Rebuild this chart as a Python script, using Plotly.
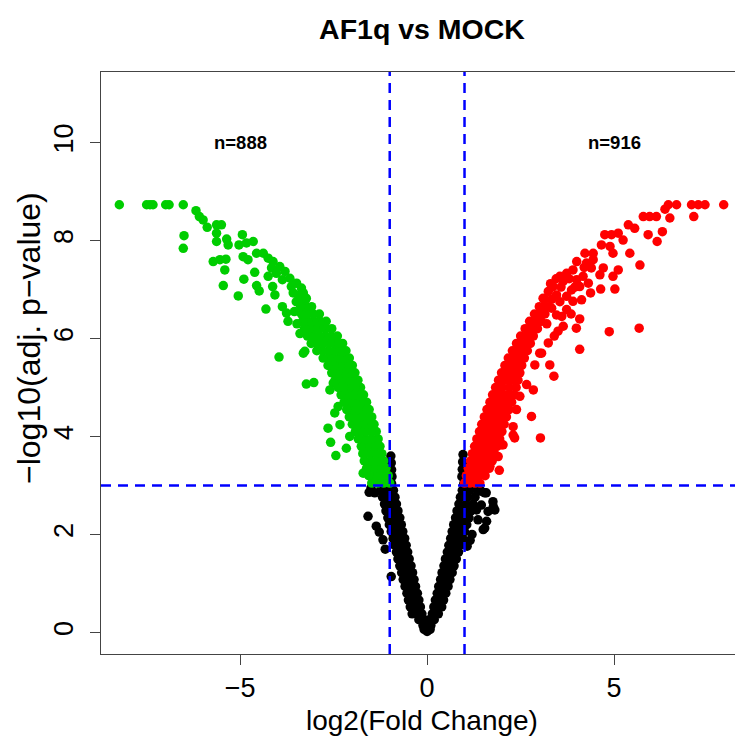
import plotly.graph_objects as go

# ---------------- text / axes ----------------
title_text = "AF1q vs MOCK"
x_label = "log2(Fold Change)"
y_label = "\u2212log10(adj. p\u2212value)"
x_ticks = [-5, 0, 5]
y_ticks = [0, 2, 4, 6, 8, 10]
x_tick_text = ["\u22125", "0", "5"]
fc_cut = 1
p_cut = 3
n_down_label = "n=888"
n_up_label = "n=916"
n_label_pos_x = [-5, 5]
n_label_pos_y = 10

# ---------------- data (log2FC, -log10 adj p) ----------------
ns_points = [
    (0.00, 0.02), (-0.08, 0.06), (0.08, 0.06), (-0.11, 0.14), (0.00, 0.12), (0.10, 0.14),
    (-0.22, 0.26), (-0.08, 0.26), (0.06, 0.26), (0.19, 0.26),
    (-0.14, 0.38), (-0.28, 0.38), (-0.40, 0.38),
    (-0.18, 0.52), (-0.32, 0.52), (-0.45, 0.52),
    (-0.22, 0.66), (-0.36, 0.66), (-0.50, 0.66),
    (-0.26, 0.80), (-0.40, 0.80), (-0.54, 0.80),
    (-0.31, 0.94), (-0.45, 0.94), (-0.59, 0.94),
    (-0.35, 1.08), (-0.50, 1.08), (-0.64, 1.08),
    (-0.39, 1.22), (-0.54, 1.22), (-0.68, 1.22),
    (-0.43, 1.36), (-0.58, 1.36), (-0.73, 1.36),
    (-0.48, 1.50), (-0.63, 1.50), (-0.78, 1.50),
    (-0.52, 1.64), (-0.67, 1.64), (-0.82, 1.64),
    (-0.56, 1.78), (-0.72, 1.78), (-0.87, 1.78),
    (-0.60, 1.92), (-0.76, 1.92), (-0.91, 1.92),
    (-0.65, 2.06), (-0.80, 2.06), (-0.96, 2.06),
    (-0.69, 2.20), (-0.85, 2.20), (-1.01, 2.20),
    (-0.73, 2.34), (-0.89, 2.34), (-1.05, 2.34),
    (-0.78, 2.48), (-0.94, 2.48), (-1.10, 2.48),
    (-0.82, 2.62), (-0.98, 2.62), (-1.14, 2.62),
    (-0.86, 2.76), (-1.02, 2.76), (-1.19, 2.76),
    (-0.90, 2.90), (-1.06, 2.90), (-1.24, 2.90),
    (-0.95, 3.04), (-1.10, 3.04), (-1.28, 3.04),
    (-0.94, 3.18), (-0.95, 3.32), (-0.96, 3.46), (-0.97, 3.60),
    (-1.50, 2.95), (-1.40, 2.85), (-1.55, 2.86), (-1.58, 2.37), (-1.36, 2.17),
    (-1.28, 2.05), (-1.18, 1.89), (-1.12, 1.70), (-0.96, 1.14),
    (0.14, 0.38), (0.30, 0.38),
    (0.18, 0.52), (0.30, 0.52), (0.39, 0.52),
    (0.22, 0.66), (0.34, 0.66), (0.44, 0.66),
    (0.27, 0.80), (0.39, 0.80), (0.50, 0.80),
    (0.31, 0.94), (0.44, 0.94), (0.56, 0.94),
    (0.36, 1.08), (0.49, 1.08), (0.61, 1.08),
    (0.40, 1.22), (0.54, 1.22), (0.67, 1.22),
    (0.45, 1.36), (0.59, 1.36), (0.72, 1.36),
    (0.49, 1.50), (0.64, 1.50), (0.78, 1.50),
    (0.54, 1.64), (0.69, 1.64), (0.84, 1.64),
    (0.58, 1.78), (0.74, 1.78), (0.89, 1.78),
    (0.63, 1.92), (0.79, 1.92), (0.95, 1.92),
    (0.67, 2.06), (0.84, 2.06), (1.00, 2.06),
    (0.71, 2.20), (0.88, 2.20), (1.06, 2.20),
    (0.76, 2.34), (0.94, 2.34), (1.12, 2.34),
    (0.80, 2.48), (0.98, 2.48), (1.17, 2.48),
    (0.85, 2.62), (1.04, 2.62), (1.23, 2.62),
    (0.89, 2.76), (1.08, 2.76), (1.28, 2.76),
    (0.94, 2.90), (1.14, 2.90), (1.34, 2.90),
    (0.98, 3.04), (1.18, 3.04), (1.38, 3.04),
    (0.93, 3.18), (0.94, 3.33), (0.95, 3.48), (0.96, 3.63),
    (1.07, 1.76), (1.15, 1.88), (1.20, 2.00), (1.50, 2.10), (1.54, 2.13), (1.59, 2.27),
    (1.36, 2.30), (1.32, 2.50), (1.45, 2.60), (1.63, 2.47), (1.77, 2.57), (1.81, 2.50),
    (1.76, 2.67), (1.54, 2.85), (1.41, 2.91), (1.45, 2.88), (1.58, 2.85),
]

down_dense = [
    (-1.00, 3.05), (-1.16, 3.05), (-1.32, 3.05), (-1.48, 3.05),
    (-1.04, 3.20), (-1.21, 3.20), (-1.38, 3.20), (-1.56, 3.20),
    (-1.10, 3.35), (-1.27, 3.35), (-1.44, 3.35), (-1.62, 3.35),
    (-1.16, 3.50), (-1.33, 3.50), (-1.50, 3.50), (-1.68, 3.50),
    (-1.21, 3.65), (-1.38, 3.65), (-1.55, 3.65), (-1.72, 3.65),
    (-1.26, 3.80), (-1.43, 3.80), (-1.60, 3.80), (-1.76, 3.80),
    (-1.31, 3.95), (-1.49, 3.95), (-1.66, 3.95), (-1.84, 3.95),
    (-1.36, 4.10), (-1.50, 4.10), (-1.64, 4.10), (-1.78, 4.10), (-1.92, 4.10),
    (-1.42, 4.25), (-1.56, 4.25), (-1.71, 4.25), (-1.85, 4.25), (-2.00, 4.25),
    (-1.48, 4.40), (-1.63, 4.40), (-1.78, 4.40), (-1.93, 4.40), (-2.08, 4.40),
    (-1.55, 4.55), (-1.70, 4.55), (-1.85, 4.55), (-2.00, 4.55), (-2.15, 4.55),
    (-1.62, 4.70), (-1.77, 4.70), (-1.92, 4.70), (-2.07, 4.70), (-2.22, 4.70),
    (-1.70, 4.85), (-1.85, 4.85), (-2.00, 4.85), (-2.15, 4.85), (-2.30, 4.85),
    (-1.78, 5.00), (-1.93, 5.00), (-2.08, 5.00), (-2.23, 5.00), (-2.38, 5.00),
    (-1.85, 5.15), (-2.00, 5.15), (-2.15, 5.15), (-2.30, 5.15), (-2.46, 5.15),
    (-1.93, 5.30), (-2.08, 5.30), (-2.24, 5.30), (-2.40, 5.30), (-2.55, 5.30),
    (-2.00, 5.45), (-2.16, 5.45), (-2.32, 5.45), (-2.48, 5.45), (-2.65, 5.45),
    (-2.08, 5.60), (-2.22, 5.60), (-2.36, 5.60), (-2.50, 5.60), (-2.64, 5.60), (-2.78, 5.60),
    (-2.17, 5.75), (-2.33, 5.75), (-2.48, 5.75), (-2.64, 5.75), (-2.80, 5.75), (-2.95, 5.75),
    (-2.26, 5.90), (-2.43, 5.90), (-2.60, 5.90), (-2.77, 5.90), (-2.94, 5.90), (-3.10, 5.90),
    (-2.40, 6.05), (-2.56, 6.05), (-2.72, 6.05), (-2.88, 6.05), (-3.04, 6.05), (-3.20, 6.05),
    (-2.55, 6.20), (-2.70, 6.20), (-2.85, 6.20), (-3.00, 6.20), (-3.14, 6.20), (-3.28, 6.20),
    (-2.70, 6.35), (-2.86, 6.35), (-3.02, 6.35), (-3.18, 6.35), (-3.33, 6.35),
    (-2.88, 6.50), (-3.04, 6.50), (-3.20, 6.50), (-3.36, 6.50),
    (-3.09, 6.65), (-3.24, 6.65), (-3.38, 6.65),
    (-3.25, 6.80), (-3.40, 6.80),
]

down_sparse = [
    (-8.23, 8.73), (-7.50, 8.73), (-7.41, 8.73), (-7.33, 8.73), (-6.99, 8.73), (-6.90, 8.73), (-6.52, 8.73),
    (-6.18, 8.61), (-6.09, 8.49), (-5.99, 8.42), (-5.88, 8.27), (-5.63, 8.32), (-5.50, 8.32),
    (-5.63, 8.15), (-5.63, 7.98), (-5.36, 8.03), (-5.32, 7.91), (-4.94, 8.12), (-5.03, 7.91),
    (-4.83, 7.95), (-4.65, 7.98), (-4.92, 7.67), (-4.79, 7.61), (-4.56, 7.74), (-4.38, 7.74),
    (-4.25, 7.64), (-4.12, 7.57), (-3.94, 7.47), (-3.80, 7.37), (-3.67, 7.23), (-3.49, 7.13),
    (-3.36, 7.03), (-3.31, 6.93), (-3.23, 6.82),
    (-4.16, 7.44), (-4.03, 7.33), (-3.87, 7.20), (-3.63, 7.06), (-3.45, 6.89), (-3.58, 6.93),
    (-6.50, 8.10), (-6.52, 7.84), (-5.72, 7.57), (-5.54, 7.61), (-5.38, 7.62), (-5.41, 7.40),
    (-5.45, 7.08), (-5.05, 6.87), (-4.90, 7.21), (-4.61, 7.35), (-4.56, 7.08), (-4.49, 6.97),
    (-4.25, 7.27), (-4.13, 7.06), (-4.07, 6.89), (-4.31, 6.60), (-3.87, 6.65), (-3.72, 6.35),
    (-3.76, 6.52), (-3.96, 5.62), (-3.31, 5.70), (-3.27, 5.74), (-3.23, 5.07), (-3.03, 5.10),
    (-2.65, 4.17), (-2.58, 3.88), (-2.44, 3.61), (-2.51, 5.09), (-2.60, 4.95), (-2.47, 4.48),
    (-2.38, 4.61), (-2.33, 4.24), (-2.16, 3.76), (-2.07, 4.00), (-1.71, 3.25),
    (-3.50, 6.75), (-3.55, 6.55), (-3.48, 6.30), (-3.40, 6.10),
]

up_dense = [
    (1.00, 3.05), (1.14, 3.05), (1.28, 3.05), (1.41, 3.05),
    (1.05, 3.20), (1.22, 3.20), (1.38, 3.20), (1.55, 3.20),
    (1.10, 3.35), (1.24, 3.35), (1.38, 3.35), (1.52, 3.35), (1.66, 3.35),
    (1.16, 3.50), (1.30, 3.50), (1.45, 3.50), (1.60, 3.50), (1.74, 3.50),
    (1.21, 3.65), (1.36, 3.65), (1.50, 3.65), (1.65, 3.65), (1.80, 3.65),
    (1.27, 3.80), (1.42, 3.80), (1.57, 3.80), (1.72, 3.80), (1.87, 3.80),
    (1.33, 3.95), (1.48, 3.95), (1.63, 3.95), (1.79, 3.95), (1.94, 3.95),
    (1.40, 4.10), (1.55, 4.10), (1.70, 4.10), (1.85, 4.10), (2.00, 4.10),
    (1.46, 4.25), (1.61, 4.25), (1.76, 4.25), (1.91, 4.25), (2.06, 4.25),
    (1.53, 4.40), (1.68, 4.40), (1.83, 4.40), (1.98, 4.40), (2.12, 4.40),
    (1.60, 4.55), (1.75, 4.55), (1.90, 4.55), (2.04, 4.55), (2.19, 4.55),
    (1.68, 4.70), (1.82, 4.70), (1.97, 4.70), (2.11, 4.70), (2.26, 4.70),
    (1.75, 4.85), (1.90, 4.85), (2.04, 4.85), (2.19, 4.85), (2.33, 4.85),
    (1.83, 5.00), (2.01, 5.00), (2.20, 5.00), (2.38, 5.00),
    (1.91, 5.15), (2.08, 5.15), (2.26, 5.15), (2.43, 5.15),
    (1.99, 5.30), (2.15, 5.30), (2.32, 5.30), (2.48, 5.30),
    (2.08, 5.45), (2.23, 5.45), (2.38, 5.45), (2.53, 5.45),
    (2.17, 5.60), (2.31, 5.60), (2.46, 5.60), (2.60, 5.60),
    (2.28, 5.75), (2.41, 5.75), (2.55, 5.75), (2.68, 5.75),
    (2.39, 5.90), (2.51, 5.90), (2.64, 5.90), (2.76, 5.90),
    (2.50, 6.05), (2.67, 6.05), (2.84, 6.05),
    (2.62, 6.20), (2.78, 6.20), (2.95, 6.20),
    (2.74, 6.35), (2.90, 6.35), (3.05, 6.35),
    (2.87, 6.50), (3.01, 6.50), (3.15, 6.50),
    (3.00, 6.65), (3.12, 6.65), (3.25, 6.65),
    (3.14, 6.80), (3.33, 6.80),
]

up_sparse = [
    (6.45, 8.73), (6.67, 8.73), (7.07, 8.73), (7.25, 8.73), (7.43, 8.73), (7.93, 8.73),
    (7.13, 8.49), (6.36, 8.64), (5.78, 8.49), (5.95, 8.49), (6.13, 8.49), (6.49, 8.46),
    (5.38, 8.32), (5.55, 8.25), (5.91, 8.12), (6.29, 8.18), (6.15, 7.98),
    (4.75, 8.12), (4.93, 8.12), (5.11, 8.15), (5.24, 8.01), (4.66, 7.91), (4.89, 7.88),
    (4.97, 7.74), (5.42, 7.74), (5.69, 7.50),
    (4.22, 7.74), (4.44, 7.74), (4.00, 7.57), (4.26, 7.54), (4.44, 7.61), (4.71, 7.44),
    (5.11, 7.40), (4.97, 7.27), (4.62, 7.30), (4.39, 7.44),
    (3.55, 7.27), (3.73, 7.33), (3.90, 7.40), (3.64, 7.17), (4.00, 7.20), (4.17, 7.27),
    (4.31, 7.13), (4.08, 7.06), (3.86, 6.99),
    (3.24, 6.96), (3.37, 7.06), (3.46, 6.89), (3.10, 6.82), (3.73, 6.86), (3.90, 6.76),
    (4.13, 6.79), (4.37, 6.93), (4.64, 7.01), (5.02, 7.01),
    (3.73, 6.59), (3.46, 6.48), (4.08, 6.40), (3.64, 6.25), (3.99, 6.21), (4.87, 6.14),
    (5.67, 6.21), (3.50, 6.15),
    (3.24, 5.91), (4.08, 5.78), (3.06, 5.70), (3.28, 5.46), (3.39, 5.23), (2.84, 4.95),
    (2.79, 4.41), (3.03, 3.97), (2.34, 3.97), (2.30, 4.03), (2.03, 3.83), (1.93, 3.31),
    (1.68, 3.39), (1.90, 3.59), (1.99, 3.83), (2.30, 4.20), (2.39, 4.55), (2.48, 4.82),
    (2.66, 5.06), (2.88, 5.46), (3.01, 5.70),
    (3.30, 7.12), (3.45, 7.22), (3.58, 7.05), (3.80, 7.22), (3.95, 7.05), (3.55, 6.75),
    (3.33, 6.62), (3.60, 6.45), (3.85, 6.50), (3.20, 6.30), (3.40, 6.05), (4.20, 7.45),
]

# ---------------- styling ----------------
FONT = "Liberation Sans, Arial, Helvetica, sans-serif"
MARK = 9.5
AXIS_COL = "#444444"

ns_x = [p[0] for p in ns_points]
ns_y = [p[1] for p in ns_points]
dn = down_dense + down_sparse
up = up_dense + up_sparse

fig = go.Figure()
fig.add_trace(go.Scatter(x=ns_x, y=ns_y, mode="markers",
                         marker=dict(color="#000000", size=MARK, line=dict(width=0)),
                         hoverinfo="skip", showlegend=False))
fig.add_trace(go.Scatter(x=[p[0] for p in dn], y=[p[1] for p in dn], mode="markers",
                         marker=dict(color="#00CD00", size=MARK, line=dict(width=0)),
                         hoverinfo="skip", showlegend=False))
fig.add_trace(go.Scatter(x=[p[0] for p in up], y=[p[1] for p in up], mode="markers",
                         marker=dict(color="#FF0000", size=MARK, line=dict(width=0)),
                         hoverinfo="skip", showlegend=False))

dash = dict(color="#0000FF", width=2.5, dash="10px,7px")
for xv in (-fc_cut, fc_cut):
    fig.add_shape(type="line", xref="x", yref="paper", x0=xv, x1=xv, y0=0, y1=1,
                  line=dash, layer="above")
fig.add_shape(type="line", xref="paper", yref="y", x0=0, x1=1, y0=p_cut, y1=p_cut,
              line=dash, layer="above")

for xt, txt in zip(n_label_pos_x, [n_down_label, n_up_label]):
    fig.add_annotation(x=xt, y=n_label_pos_y, xref="x", yref="y", text="<b>%s</b>" % txt,
                       showarrow=False, font=dict(family=FONT, size=18.5, color="#000000"))

# page has an 8px body margin: figure is shifted so the plot box lands where the reference has it
W, H = 735, 738
ML, MT, MB = 93, 64, 92
plot_w = W - ML
plot_h = H - MT - MB

fig.add_annotation(x=0.5, y=-(712 - (MT + plot_h)) / plot_h, xref="paper", yref="paper",
                   text=x_label, showarrow=False, yanchor="middle",
                   font=dict(family=FONT, size=28, color="#000000"))
fig.add_annotation(x=-(ML - 21) / plot_w, y=(MT + plot_h - 330) / plot_h,
                   xref="paper", yref="paper", text=y_label,
                   showarrow=False, textangle=-90, xanchor="center", yanchor="middle",
                   font=dict(family=FONT, size=32, color="#000000"))

fig.update_layout(
    width=W, height=H,
    margin=dict(l=ML, r=0, t=MT, b=MB),
    paper_bgcolor="white", plot_bgcolor="white",
    title=dict(text="<b>%s</b>" % title_text, x=0.5, xref="paper", xanchor="center",
               y=1 - 21 / H, yref="container", yanchor="middle",
               font=dict(family=FONT, size=28.5, color="#000000")),
    xaxis=dict(range=[-8.72, 8.446], tickvals=x_ticks, ticktext=x_tick_text,
               showgrid=False, zeroline=False, showline=True, linecolor=AXIS_COL,
               linewidth=1.2, mirror=True, ticks="outside", ticklen=10, tickwidth=1.2,
               tickcolor=AXIS_COL, ticklabelstandoff=-1,
               tickfont=dict(family=FONT, size=27, color="#000000")),
    yaxis=dict(range=[-0.44, 11.44], tickvals=y_ticks,
               showgrid=False, zeroline=False, showline=True, linecolor=AXIS_COL,
               linewidth=1.2, mirror=False, ticks="outside", ticklen=10, tickwidth=1.2,
               tickcolor=AXIS_COL, tickangle=-90, ticklabelstandoff=6,
               tickfont=dict(family=FONT, size=27, color="#000000")),
)

fig.write_html("out.html")
